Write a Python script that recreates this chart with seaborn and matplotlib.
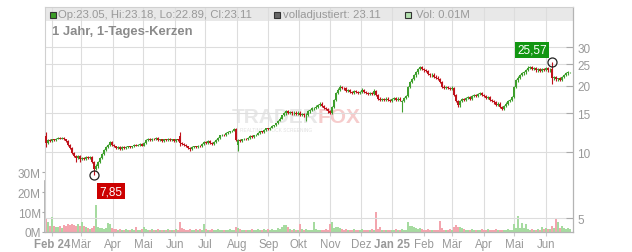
import numpy as np
import pandas as pd
import matplotlib
matplotlib.use("Agg")
import matplotlib.pyplot as plt
import matplotlib.dates as mdates
from matplotlib.patches import Rectangle
import seaborn as sns

# ---------------- data ----------------
opens = [
    11.8, 11.0, 11.3, 11.2, 11.4, 11.3, 11.5, 11.6, 11.5, 11.6,
    11.4, 11.2, 10.8, 10.4, 9.9, 9.6, 9.4, 9.6, 9.3, 9.4,
    9.3, 9.5, 9.4, 9.5, 9.0, 8.4, 8.6, 9.0, 9.4, 9.8,
    10.2, 10.5, 10.8, 11.1, 10.8, 10.6, 10.4, 10.5, 10.3, 10.5,
    10.4, 10.5, 10.6, 10.5, 10.6, 10.8, 10.7, 10.8, 10.9, 10.7,
    11.0, 11.3, 11.5, 11.3, 11.5, 11.4, 11.6, 11.3, 11.4, 11.2,
    11.4, 11.3, 11.5, 11.3, 11.4, 11.2, 11.4, 11.8, 11.0, 10.9,
    10.8, 10.6, 10.4, 10.3, 10.5, 10.6, 10.5, 10.7, 10.6, 10.9,
    11.1, 11.0, 11.2, 11.0, 10.9, 11.1, 11.3, 11.6, 11.9, 12.0,
    11.9, 12.2, 12.3, 12.4, 12.5, 12.7, 10.8, 11.3, 11.2, 11.4,
    11.5, 11.4, 11.6, 11.8, 11.7, 11.9, 12.0, 12.2, 12.4, 12.3,
    12.6, 12.8, 12.7, 12.9, 13.1, 13.2, 13.5, 13.9, 14.2, 14.7,
    15.0, 15.3, 15.1, 15.2, 15.0, 15.1, 14.9, 15.1, 14.8, 14.9,
    14.7, 14.8, 15.3, 15.5, 15.8, 15.9, 16.1, 16.4, 16.6, 16.2,
    15.9, 15.7, 15.3, 15.1, 16.0, 17.2, 18.5, 19.2, 19.8, 19.6,
    19.5, 19.0, 19.2, 18.8, 18.6, 18.9, 18.7, 18.5, 18.8, 19.2,
    18.7, 18.5, 18.3, 18.6, 18.4, 18.9, 18.1, 17.5, 17.2, 17.4,
    17.3, 17.5, 17.2, 17.0, 17.4, 17.6, 17.3, 17.5, 16.8, 17.0,
    17.6, 18.0, 19.8, 20.8, 21.5, 22.3, 23.0, 23.8, 24.3, 23.9,
    23.5, 23.3, 22.6, 22.3, 22.5, 22.0, 21.8, 21.5, 20.8, 19.8,
    19.6, 19.7, 19.5, 19.4, 19.6, 18.2, 17.0, 16.3, 17.0, 17.4,
    17.2, 17.6, 17.8, 17.5, 18.0, 18.2, 18.0, 18.4, 18.5, 18.2,
    18.0, 17.6, 17.8, 17.3, 17.0, 16.8, 16.4, 16.6, 16.0, 15.7,
    16.2, 16.6, 17.0, 17.3, 17.8, 19.8, 21.2, 21.8, 22.4, 22.8,
    23.0, 23.6, 24.2, 24.4, 23.8, 24.0, 23.5, 23.9, 23.4, 23.8,
    23.6, 24.1, 23.5, 23.8, 21.6, 21.9, 21.4, 21.6, 21.3, 21.9,
    22.4, 22.8, 23.05,
]
highs = [
    12.3, 11.4, 11.4, 11.5, 11.5, 11.6, 11.7, 11.7, 11.7, 11.7,
    11.5, 11.3, 10.9, 10.5, 10.0, 9.7, 9.7, 9.7, 9.5, 9.5,
    9.6, 9.6, 9.6, 9.6, 9.1, 8.8, 9.1, 9.5, 9.9, 10.3,
    10.6, 10.9, 11.2, 11.2, 10.9, 10.7, 10.6, 10.6, 10.6, 10.6,
    10.6, 10.7, 10.7, 10.7, 10.9, 10.9, 10.9, 11.0, 11.0, 11.1,
    11.4, 11.6, 11.6, 11.6, 11.6, 11.7, 11.7, 11.5, 11.5, 11.5,
    11.5, 11.6, 11.6, 11.5, 11.5, 11.5, 11.5, 12.3, 11.1, 11.0,
    10.9, 10.7, 10.5, 10.6, 10.7, 10.7, 10.8, 10.8, 11.0, 11.2,
    11.2, 11.3, 11.3, 11.1, 11.2, 11.4, 11.7, 12.0, 12.1, 12.1,
    12.3, 12.4, 12.5, 12.6, 12.8, 12.8, 11.5, 11.4, 11.5, 11.6,
    11.6, 11.7, 11.9, 11.9, 12.0, 12.1, 12.3, 12.5, 12.5, 12.7,
    12.9, 12.9, 13.0, 13.2, 13.3, 13.6, 14.0, 14.4, 14.8, 15.2,
    15.5, 15.5, 15.4, 15.4, 15.3, 15.3, 15.3, 15.3, 15.1, 15.1,
    15.0, 15.5, 15.7, 16.0, 16.1, 16.3, 16.6, 16.8, 16.8, 16.4,
    16.1, 15.9, 15.5, 16.2, 17.4, 18.7, 19.5, 20.1, 20.0, 19.8,
    19.7, 19.4, 19.4, 19.0, 19.1, 19.1, 18.9, 19.0, 19.5, 19.4,
    18.9, 18.7, 18.8, 18.8, 19.3, 19.1, 18.3, 17.7, 17.6, 17.6,
    17.7, 17.7, 17.4, 17.6, 17.8, 17.8, 17.7, 17.7, 17.2, 17.8,
    18.2, 20.0, 21.1, 21.8, 22.6, 23.3, 24.1, 24.7, 24.5, 24.1,
    23.8, 23.6, 22.9, 22.8, 22.8, 22.3, 22.1, 21.8, 21.1, 20.1,
    20.0, 19.9, 19.7, 19.9, 19.8, 18.4, 17.2, 17.2, 17.6, 17.6,
    17.8, 18.0, 18.0, 18.2, 18.4, 18.4, 18.6, 18.7, 18.7, 18.4,
    18.2, 18.0, 18.0, 17.5, 17.2, 17.0, 16.8, 16.8, 16.2, 16.4,
    16.8, 17.2, 17.5, 18.0, 20.0, 21.5, 22.1, 22.7, 23.1, 23.3,
    23.9, 24.5, 24.7, 24.7, 24.3, 24.3, 24.2, 24.2, 24.1, 24.1,
    24.4, 24.4, 24.0, 25.57, 22.2, 22.2, 21.8, 21.9, 22.2, 22.7,
    23.1, 23.3, 23.18,
]
lows = [
    10.5, 10.9, 11.1, 11.1, 11.2, 11.2, 11.4, 11.4, 11.4, 11.3,
    11.1, 10.7, 10.3, 9.8, 9.5, 9.0, 9.3, 9.0, 9.2, 9.2,
    9.2, 9.3, 9.3, 8.9, 7.85, 8.3, 8.5, 8.9, 9.3, 9.7,
    10.1, 10.4, 10.7, 10.7, 10.5, 10.3, 10.3, 10.2, 10.2, 10.3,
    10.3, 10.4, 10.4, 10.4, 10.5, 10.6, 10.6, 10.7, 10.6, 10.6,
    10.9, 11.2, 11.2, 11.2, 11.3, 11.3, 11.2, 11.2, 11.1, 11.1,
    11.2, 11.2, 11.2, 11.2, 11.1, 11.1, 11.2, 10.6, 10.8, 10.7,
    10.5, 10.3, 10.1, 10.2, 10.4, 10.4, 10.4, 10.5, 10.5, 10.8,
    10.9, 10.9, 10.9, 10.8, 10.8, 11.0, 11.2, 11.5, 11.8, 11.8,
    11.8, 12.1, 12.2, 12.3, 12.4, 11.2, 10.1, 11.1, 11.1, 11.3,
    11.3, 11.3, 11.5, 11.6, 11.6, 11.8, 11.9, 12.1, 12.2, 12.2,
    12.5, 12.6, 12.6, 12.8, 13.0, 13.1, 13.4, 13.8, 14.1, 14.6,
    14.8, 14.9, 14.9, 14.8, 14.8, 14.7, 14.7, 14.6, 14.6, 14.5,
    13.8, 14.6, 15.1, 15.3, 15.6, 15.7, 15.9, 16.2, 16.0, 15.7,
    15.5, 15.1, 14.9, 14.9, 15.8, 17.0, 18.3, 19.0, 19.3, 19.2,
    18.8, 18.8, 18.6, 18.4, 18.4, 18.5, 18.3, 18.3, 18.6, 18.5,
    18.3, 18.1, 18.1, 18.2, 18.2, 17.9, 17.3, 17.0, 17.0, 17.1,
    17.1, 17.0, 16.8, 16.8, 17.2, 17.1, 17.1, 17.0, 15.2, 16.8,
    17.4, 17.8, 19.6, 20.5, 21.2, 22.0, 22.7, 23.5, 23.6, 23.2,
    23.0, 22.3, 22.0, 22.0, 21.7, 21.5, 21.2, 20.5, 19.5, 19.3,
    19.3, 19.3, 19.2, 19.2, 18.0, 16.8, 16.0, 16.1, 16.8, 17.0,
    17.0, 17.4, 17.3, 17.3, 17.8, 17.8, 17.8, 18.2, 18.0, 17.8,
    17.4, 17.4, 17.1, 16.8, 16.6, 16.2, 16.2, 15.8, 15.5, 15.5,
    16.0, 16.4, 16.8, 17.1, 17.6, 19.6, 20.9, 21.5, 22.1, 22.5,
    22.7, 23.3, 23.9, 23.5, 23.5, 23.2, 23.2, 23.1, 23.1, 23.3,
    23.3, 23.2, 23.2, 20.4, 21.3, 21.1, 21.1, 21.0, 21.1, 21.6,
    22.1, 22.5, 22.89,
]
closes = [
    11.0, 11.3, 11.2, 11.4, 11.3, 11.5, 11.6, 11.5, 11.6, 11.4,
    11.2, 10.8, 10.4, 9.9, 9.6, 9.4, 9.6, 9.3, 9.4, 9.3,
    9.5, 9.4, 9.5, 9.0, 8.4, 8.6, 9.0, 9.4, 9.8, 10.2,
    10.5, 10.8, 11.1, 10.8, 10.6, 10.4, 10.5, 10.3, 10.5, 10.4,
    10.5, 10.6, 10.5, 10.6, 10.8, 10.7, 10.8, 10.9, 10.7, 11.0,
    11.3, 11.5, 11.3, 11.5, 11.4, 11.6, 11.3, 11.4, 11.2, 11.4,
    11.3, 11.5, 11.3, 11.4, 11.2, 11.4, 11.3, 11.0, 10.9, 10.8,
    10.6, 10.4, 10.3, 10.5, 10.6, 10.5, 10.7, 10.6, 10.9, 11.1,
    11.0, 11.2, 11.0, 10.9, 11.1, 11.3, 11.6, 11.9, 12.0, 11.9,
    12.2, 12.3, 12.4, 12.5, 12.7, 11.3, 11.3, 11.2, 11.4, 11.5,
    11.4, 11.6, 11.8, 11.7, 11.9, 12.0, 12.2, 12.4, 12.3, 12.6,
    12.8, 12.7, 12.9, 13.1, 13.2, 13.5, 13.9, 14.2, 14.7, 15.0,
    15.3, 15.1, 15.2, 15.0, 15.1, 14.9, 15.1, 14.8, 14.9, 14.7,
    14.8, 15.3, 15.5, 15.8, 15.9, 16.1, 16.4, 16.6, 16.2, 15.9,
    15.7, 15.3, 15.1, 16.0, 17.2, 18.5, 19.2, 19.8, 19.6, 19.5,
    19.0, 19.2, 18.8, 18.6, 18.9, 18.7, 18.5, 18.8, 19.2, 18.7,
    18.5, 18.3, 18.6, 18.4, 18.9, 18.1, 17.5, 17.2, 17.4, 17.3,
    17.5, 17.2, 17.0, 17.4, 17.6, 17.3, 17.5, 17.2, 17.0, 17.6,
    18.0, 19.8, 20.8, 21.5, 22.3, 23.0, 23.8, 24.3, 23.9, 23.5,
    23.3, 22.6, 22.3, 22.5, 22.0, 21.8, 21.5, 20.8, 19.8, 19.6,
    19.7, 19.5, 19.4, 19.6, 18.2, 17.0, 16.3, 17.0, 17.4, 17.2,
    17.6, 17.8, 17.5, 18.0, 18.2, 18.0, 18.4, 18.5, 18.2, 18.0,
    17.6, 17.8, 17.3, 17.0, 16.8, 16.4, 16.6, 16.0, 15.7, 16.2,
    16.6, 17.0, 17.3, 17.8, 19.8, 21.2, 21.8, 22.4, 22.8, 23.0,
    23.6, 24.2, 24.4, 23.8, 24.0, 23.5, 23.9, 23.4, 23.8, 23.6,
    24.1, 23.5, 23.7, 21.6, 21.9, 21.4, 21.6, 21.3, 21.9, 22.4,
    22.8, 23.05, 23.11,
]
volumes_m = [
    6.5, 5.0, 3.0, 7.7, 3.0, 2.5, 2.5, 3.0, 2.0, 3.5,
    3.0, 4.0, 3.5, 4.0, 3.5, 3.0, 4.0, 3.0, 5.0, 3.0,
    2.5, 2.0, 1.5, 2.0, 3.0, 13.5, 2.5, 2.0, 2.0, 1.5,
    2.0, 4.5, 4.0, 2.0, 1.5, 1.5, 1.0, 1.5, 1.2, 1.0,
    1.5, 1.0, 1.2, 1.5, 1.0, 2.3, 1.0, 1.2, 1.5, 2.3,
    1.5, 1.2, 1.0, 1.5, 1.2, 1.0, 1.5, 1.2, 1.0, 1.2,
    1.0, 1.5, 1.2, 1.0, 1.2, 1.5, 1.0, 5.0, 2.0, 1.5,
    1.2, 1.0, 1.5, 1.2, 1.0, 1.5, 1.2, 1.5, 1.0, 4.0,
    1.5, 1.2, 1.0, 1.5, 1.0, 1.2, 1.5, 1.0, 1.2, 1.0,
    1.2, 1.0, 1.5, 1.2, 1.0, 2.3, 2.0, 1.5, 1.2, 1.0,
    1.0, 1.2, 1.0, 1.5, 1.0, 1.2, 1.5, 1.0, 1.2, 1.5,
    1.0, 1.5, 1.2, 1.5, 1.0, 1.2, 2.0, 1.5, 2.5, 3.5,
    3.5, 2.5, 1.5, 1.2, 1.5, 1.0, 1.2, 4.0, 1.5, 1.2,
    1.5, 1.2, 1.0, 1.2, 5.0, 1.5, 1.0, 1.2, 1.0, 1.2,
    1.5, 1.0, 4.0, 5.0, 2.0, 2.3, 2.5, 2.0, 1.5, 1.2,
    1.5, 1.2, 1.0, 1.2, 1.5, 1.0, 1.2, 1.0, 1.5, 1.0,
    1.2, 1.0, 1.2, 1.5, 1.0, 10.0, 1.5, 2.3, 1.2, 1.0,
    1.2, 1.0, 1.2, 1.0, 1.2, 1.5, 1.0, 1.2, 1.5, 1.0,
    1.2, 5.0, 3.0, 3.0, 2.5, 2.0, 1.5, 2.0, 1.5, 1.0,
    1.2, 1.5, 1.2, 1.0, 1.2, 1.0, 1.2, 5.3, 2.0, 1.2,
    1.0, 1.2, 1.5, 1.2, 2.3, 3.7, 2.3, 2.3, 2.0, 1.5,
    1.2, 1.0, 1.2, 1.5, 1.0, 1.2, 1.0, 1.2, 1.5, 1.0,
    1.2, 1.5, 1.0, 1.2, 1.0, 1.5, 1.2, 1.0, 1.2, 1.0,
    1.2, 1.5, 1.0, 1.2, 4.0, 2.0, 8.0, 2.0, 4.3, 2.0,
    4.0, 1.5, 1.2, 1.5, 1.0, 1.2, 1.5, 1.0, 2.7, 1.5,
    2.0, 1.5, 1.5, 3.0, 2.0, 7.0, 5.0, 2.0, 3.0, 2.0,
    1.5, 1.8, 1.5,
]
month_labels = ["Feb 24", "Mär", "Apr", "Mai", "Jun", "Jul", "Aug", "Sep", "Okt",
                "Nov", "Dez", "Jan 25", "Feb", "Mär", "Apr", "Mai", "Jun"]
price_ticks = [5, 10, 15, 20, 25, 30]
volume_ticks = [0, 10, 20, 30]
volume_tick_labels = ["0M", "10M", "20M", "30M"]
high_mark = 25.57
low_mark = 7.85
header_ohlc = "Op:23.05, Hi:23.18, Lo:22.89, Cl:23.11"
header_adj = "volladjustiert: 23.11"
header_vol = "Vol: 0.01M"
title = "1 Jahr, 1-Tages-Kerzen"

# ---------------- layout ----------------
W, H = 632, 253
sns.set_theme(style="white")
plt.rcParams["font.family"] = ["Liberation Sans", "DejaVu Sans"]

o = np.array(opens); h = np.array(highs); l = np.array(lows); c = np.array(closes)
v = np.array(volumes_m)
n = len(c)
first = mdates.date2num(pd.Timestamp("2024-01-26"))
step = 2 / 1.016
xs = first + np.arange(n) * step
up = c >= o

GREEN, RED = "#3e9f2c", "#c0121b"
VGREEN, VRED = "#a6dba0", "#f3a5ae"
TXT = "#999999"

fig = plt.figure(figsize=(W / 100, H / 100), dpi=100)
fig.patch.set_facecolor("white")
L, R, B, T = 45, 573, 233, 8
axv = fig.add_axes([L / W, 1 - B / H, (R - L) / W, (B - T) / H])
axp = axv.twinx()

feb1 = mdates.date2num(pd.Timestamp("2024-02-01"))
xlim = (feb1 - 7 / 1.016, feb1 + 521 / 1.016)

# header band
axv.add_patch(Rectangle((0, 1 - 14 / (B - T)), 1, 14 / (B - T), transform=axv.transAxes,
                        facecolor="#e8e8e8", edgecolor="none", zorder=0.1))

# volume bars via seaborn
df = pd.DataFrame({"x": xs, "vol": v, "dir": np.where(up, "up", "down")})
sns.barplot(data=df, x="x", y="vol", hue="dir", palette={"up": VGREEN, "down": VRED},
            native_scale=True, dodge=False, width=0.65, errorbar=None, legend=False,
            saturation=1, linewidth=0, ax=axv)
axv.set_xlabel(""); axv.set_ylabel("")
axv.set_ylim(0, (B - T) / 2)
axv.set_yticks(volume_ticks)
axv.set_yticklabels(volume_tick_labels)
axv.tick_params(axis="y", left=True, direction="out", length=2.5, width=0.8, pad=0.5,
                labelsize=8.5, labelcolor=TXT, color="#aaaaaa")

# watermark
axv.text(232 / W, 1 - 118 / H, "TRADER", transform=fig.transFigure, fontsize=15,
         fontweight="bold", color="#e8e8e8", va="center", ha="left", zorder=0.2)
axv.text(318 / W, 1 - 118 / H, "FOX", transform=fig.transFigure, fontsize=15,
         fontweight="bold", color="#f6cccc", va="center", ha="left", zorder=0.2)
axv.text(240 / W, 1 - 131 / H, "REALTIME STOCK SCREENING", transform=fig.transFigure,
         fontsize=3.5, color="#e0e0e0", va="center", ha="left", zorder=0.2)

# month grid + labels
month_pos = mdates.date2num(pd.date_range("2024-02-01", "2025-06-01", freq="MS"))
axv.set_xticks(month_pos)
axv.set_xticklabels(month_labels)
axv.set_xlim(*xlim)
axv.set_axisbelow(True)
axv.grid(axis="x", color="#dddddd", linewidth=0.8)
axv.grid(axis="y", visible=False)
axv.tick_params(axis="x", bottom=True, direction="out", length=3, width=0.8, pad=1.5,
                labelsize=8.3, labelcolor=TXT, color="#cccccc")
for lab in axv.get_xticklabels():
    if lab.get_text() in ("Feb 24", "Jan 25"):
        lab.set_fontweight("bold")

# candles
cols = np.where(up, GREEN, RED)
axp.vlines(xs, l, h, colors=cols, linewidth=0.8, zorder=3)
body = np.maximum(np.abs(c - o), 0.02)
axp.bar(xs, body, bottom=np.minimum(o, c), width=1.4, color=cols, linewidth=0, zorder=3)

axp.set_yscale("log")
axp.set_ylim(10 * np.exp(-80 / 95.5), 10 * np.exp(145 / 95.5))
axp.set_xlim(*xlim)
axp.yaxis.set_major_locator(matplotlib.ticker.FixedLocator(price_ticks))
axp.yaxis.set_minor_locator(matplotlib.ticker.NullLocator())
axp.set_yticklabels([str(t) for t in price_ticks])
axp.grid(axis="y", color="#dddddd", linewidth=0.8, zorder=0)
axp.grid(axis="x", visible=False)
axp.tick_params(axis="y", right=True, direction="in", length=5, width=0.8, pad=3,
                labelsize=8.5, labelcolor=TXT, color="#aaaaaa")

# markers
ih = int(np.argmax(h)); il = int(np.argmin(l))
axp.plot([xs[ih]], [h[ih]], marker="o", ms=6.5, mfc="none", mec="#222222", mew=0.9, zorder=5)
axp.plot([xs[il]], [l[il]], marker="o", ms=6.5, mfc="none", mec="#222222", mew=0.9, zorder=5)
axp.annotate(f"{high_mark:.2f}".replace(".", ","), xy=(xs[ih], h[ih]), xytext=(-20, 12.5),
             textcoords="offset pixels", ha="center", va="center", color="white", fontsize=8.5,
             bbox=dict(boxstyle="square,pad=0.18", fc="#129612", ec="none"), zorder=6)
axp.annotate(f"{low_mark:.2f}".replace(".", ","), xy=(xs[il], l[il]), xytext=(17, -16),
             textcoords="offset pixels", ha="center", va="center", color="white", fontsize=8.5,
             bbox=dict(boxstyle="square,pad=0.18", fc="#cc0000", ec="none"), zorder=6)

# spines
for ax in (axv, axp):
    for s in ax.spines.values():
        s.set_visible(False)
for s in ("top", "left"):
    axp.spines[s].set_visible(True)
    axp.spines[s].set_color("#d0d0d0")
    axp.spines[s].set_linewidth(0.8)
for s in ("bottom", "right"):
    axp.spines[s].set_visible(True)
    axp.spines[s].set_color("#b4b4b4")
    axp.spines[s].set_linewidth(0.9)
axv.spines["left"].set_visible(True)
axv.spines["left"].set_color("#aaaaaa")
axv.spines["left"].set_linewidth(1.2)
axv.spines["left"].set_bounds(0, 25.6)

# header texts and squares
def sq(x0, fc):
    fig.add_artist(Rectangle((x0 / W, 1 - 18.5 / H), 6 / W, 6 / H, transform=fig.transFigure,
                             facecolor=fc, edgecolor="#333333", linewidth=0.8))

sq(50, "#3c9e28")
sq(274, "#666666")
sq(405, "#b3e0ae")
fig.text(58 / W, 1 - 15.5 / H, header_ohlc, fontsize=8.2, color=TXT, va="center", ha="left")
fig.text(283 / W, 1 - 15.5 / H, header_adj, fontsize=8.2, color=TXT, va="center", ha="left")
fig.text(416 / W, 1 - 15.5 / H, header_vol, fontsize=8.2, color=TXT, va="center", ha="left")
fig.text(52 / W, 1 - 32 / H, title, fontsize=9.4, fontweight="bold", color="#8a8a8a",
         va="center", ha="left")

fig.savefig("out.png", dpi=100, facecolor="white")
